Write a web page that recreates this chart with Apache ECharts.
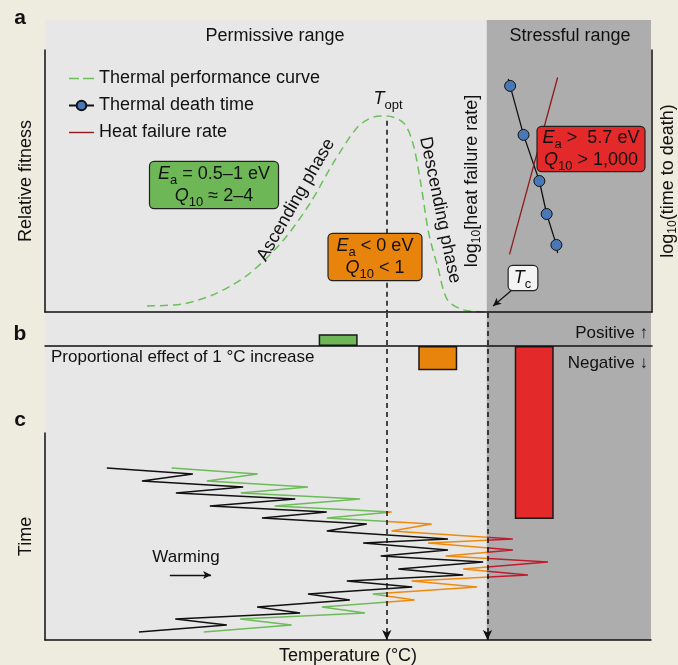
<!DOCTYPE html>
<html>
<head>
<meta charset="utf-8">
<script src="https://cdn.jsdelivr.net/npm/echarts@6/dist/echarts.min.js"></script>
<style>
  html, body { margin: 0; padding: 0; background: #eeebdf; }
  #chart { width: 678px; height: 665px; }
</style>
</head>
<body>
<div id="chart"></div>
<script>
const FONT = '"Liberation Sans", Arial, Helvetica, sans-serif'
const INK = '#111'

// temperature axis runs 0..100 (arbitrary units)
const T_OPT = 56.3
const T_C = 72.9

// panel a: thermal performance curve
const perfTemp = [16.8, 22.8, 28.4, 33.8, 39.3, 43.7, 47.5, 51.5, 54.1, 56.3, 59.1, 60.6, 61.9, 63.2, 64.7, 66.3, 69.0, 72.9]
const perfFitness = [2.3, 3.1, 7.3, 14.9, 27.5, 41.6, 56.9, 70.6, 74.4, 74.8, 72.1, 64.5, 49.2, 30.2, 17.2, 4.6, 0.8, 0]

// stressful inset: thermal death time (first/last are line ends without a dot)
const deathTemp = [76.4, 76.7, 78.9, 81.5, 82.7, 84.3, 84.5]
const deathLogTime = [8.9, 8.63, 6.76, 5.0, 3.74, 2.56, 2.25]
const deathDot = [false, true, true, true, true, true, false]

// stressful inset: heat failure rate
const failureTemp = [76.6, 84.5]
const failureLogRate = [2.2, 8.95]

// panel b: proportional effect of 1 °C increase
const effectNames = ['Ascending', 'Descending', 'Stressful']
const effectTemp = [48.3, 64.7, 80.6]
const effectValue = [3.6, -7.3, -52.4]
const effectColors = ['#6db757', '#e8830c', '#e3292a']

// panel c: temperature over time
const zigzagTime = [83.1, 80.2, 76.8, 73.9, 71.0, 68.1, 64.7, 61.8, 58.9, 56.0, 52.7, 48.8, 46.9, 43.5, 40.6, 37.7, 34.3, 31.4, 28.5, 25.6, 22.2, 19.3, 15.9, 13.0, 10.1, 7.2, 3.9]
const blackTemp = [10.2, 24.4, 16.0, 32.7, 21.6, 41.3, 27.2, 46.5, 35.8, 53.1, 46.5, 66.5, 52.5, 66.5, 55.4, 72.3, 58.3, 69.0, 49.8, 60.6, 43.4, 50.3, 35.0, 42.1, 21.5, 30.0, 15.5]
const colourTemp = [20.9, 35.1, 26.7, 43.4, 32.3, 52.0, 37.9, 57.2, 46.5, 63.8, 57.2, 77.2, 63.2, 77.2, 66.1, 83.0, 69.0, 79.7, 60.5, 71.3, 54.1, 61.0, 45.7, 52.8, 32.2, 40.7, 26.2]

const zip = (xs, ys) => xs.map((x, i) => [x, ys[i]])

const rich = {
  i: { fontFamily: FONT, fontSize: 18, fontStyle: 'italic', lineHeight: 22, color: INK, fill: INK },
  n: { fontFamily: FONT, fontSize: 18, lineHeight: 22, color: INK, fill: INK },
  s: { fontFamily: FONT, fontSize: 13, lineHeight: 13, padding: [12, 0, 0, 0], color: INK, fill: INK }
}

function label(x, y, text, opts) {
  return Object.assign({
    type: 'text', x: x, y: y, z: 100, silent: true,
    style: Object.assign({
      text: text, fill: INK, font: '18px ' + FONT, align: 'center', verticalAlign: 'middle', rich: rich
    }, opts && opts.style)
  }, opts && opts.el)
}

function box(x, y, text, bg, pad) {
  return label(x, y, text, { style: {
    backgroundColor: bg, borderColor: '#222', borderWidth: 1.2, borderRadius: 4, padding: pad || [1, 8, 1, 8]
  } })
}

const hideAxis = { axisLine: { show: false }, axisTick: { show: false }, axisLabel: { show: false }, splitLine: { show: false } }
const axisInk = { lineStyle: { color: INK, width: 1.5 } }
const nameStyle = { fontFamily: FONT, fontSize: 18, color: INK, rich: { s: { fontFamily: FONT, fontSize: 12, color: INK, padding: [10, 0, 0, 0] } } }

var myChart = echarts.init(document.getElementById('chart'))

var option = {
  backgroundColor: '#eeebdf',
  animation: false,
  textStyle: { fontFamily: FONT },
  grid: [
    { left: 45, right: 27, top: 20, height: 620, outerBoundsMode: 'none' },   // background
    { left: 45, right: 26, top: 50, height: 262, outerBoundsMode: 'none' },   // a
    { left: 487, right: 26, top: 50, height: 262, outerBoundsMode: 'none' },  // stressful inset
    { left: 45, right: 26, top: 313, height: 327, outerBoundsMode: 'none' },  // b
    { left: 45, right: 27, top: 433, height: 207, outerBoundsMode: 'none' }   // c
  ],
  xAxis: [
    { gridIndex: 0, type: 'value', min: 0, max: 100, show: false },
    Object.assign({ gridIndex: 1, type: 'value', min: 0, max: 100, z: 5 }, hideAxis, { axisLine: axisInk }),
    { gridIndex: 2, type: 'value', min: T_C, max: 100, show: false },
    Object.assign({ gridIndex: 3, type: 'value', min: 0, max: 100, z: 5 }, hideAxis, { axisLine: Object.assign({ onZero: true }, axisInk) }),
    Object.assign({ gridIndex: 4, type: 'value', min: 0, max: 100, z: 5,
      name: 'Temperature (°C)', nameLocation: 'middle', nameGap: 7, nameTextStyle: nameStyle }, hideAxis, { axisLine: axisInk })
  ],
  yAxis: [
    { gridIndex: 0, type: 'value', min: 0, max: 1, show: false },
    Object.assign({ gridIndex: 1, type: 'value', min: 0, max: 100, z: 5,
      name: 'Relative fitness', nameLocation: 'middle', nameGap: 10, nameTextStyle: nameStyle }, hideAxis, { axisLine: axisInk }),
    Object.assign({ gridIndex: 2, type: 'value', min: 0, max: 10, position: 'left', z: 5,
      name: 'log{s|10}[heat failure rate]', nameLocation: 'middle', nameGap: 4, nameTextStyle: nameStyle }, hideAxis),
    Object.assign({ gridIndex: 2, type: 'value', min: 0, max: 10, position: 'right', z: 5,
      name: 'log{s|10}(time to death)', nameLocation: 'middle', nameGap: 5, nameTextStyle: nameStyle }, hideAxis, { axisLine: Object.assign({ onZero: false }, axisInk) }),
    Object.assign({ gridIndex: 3, type: 'value', min: -89, max: 10 }, hideAxis),
    Object.assign({ gridIndex: 4, type: 'value', min: 0, max: 100, z: 5,
      name: 'Time', nameLocation: 'middle', nameGap: 10, nameTextStyle: nameStyle }, hideAxis, { axisLine: axisInk })
  ],
  legend: {
    data: [
      { name: 'Thermal performance curve', icon: 'path://M0,0h10v1.5h-10zM14,0h11v1.5h-11z' },
      'Thermal death time',
      { name: 'Heat failure rate', icon: 'path://M0,0h25v1.4h-25z' }
    ],
    orient: 'vertical', left: 63, top: 63, itemWidth: 25, itemHeight: 12, itemGap: 6,
    selectedMode: false, symbolKeepAspect: true,
    textStyle: { fontFamily: FONT, fontSize: 18, color: INK, lineHeight: 21 }
  },
  visualMap: {
    type: 'piecewise', show: false, seriesIndex: 5, dimension: 0,
    pieces: [
      { lt: T_OPT, color: '#6dbb5a' },
      { gte: T_OPT, lt: T_C, color: '#ee8a10' },
      { gte: T_C, color: '#c21b2d' }
    ]
  },
  series: [
    {
      // permissive / stressful backgrounds
      type: 'line', xAxisIndex: 0, yAxisIndex: 0, data: [[0, 0]], symbol: 'none', silent: true,
      lineStyle: { opacity: 0 },
      markArea: {
        silent: true,
        data: [
          [{ xAxis: 0, itemStyle: { color: '#e7e7e7' } }, { xAxis: T_C }],
          [{ xAxis: T_C, itemStyle: { color: '#adadad' } }, { xAxis: 100 }]
        ]
      }
    },
    {
      name: 'Thermal performance curve', type: 'line', xAxisIndex: 1, yAxisIndex: 1,
      data: zip(perfTemp, perfFitness), smooth: 0.3, symbol: 'none', silent: true,
      itemStyle: { color: '#6cbf5c' },
      lineStyle: { color: '#6cbf5c', width: 1.5, type: [8, 5] },
      markLine: {
        silent: true, symbol: 'none', label: { show: false },
        lineStyle: { color: INK, width: 1.5, type: [5, 4] },
        data: [[{ coord: [T_OPT, 73] }, { coord: [T_OPT, 0] }]]
      }
    },
    {
      name: 'Thermal death time', type: 'line', xAxisIndex: 2, yAxisIndex: 3,
      data: deathTemp.map((t, i) => deathDot[i] ? [t, deathLogTime[i]] : { value: [t, deathLogTime[i]], symbol: 'none' }),
      symbol: 'circle', symbolSize: 11, showSymbol: true, silent: true,
      itemStyle: { color: '#4a77b6', borderColor: INK, borderWidth: 1 },
      lineStyle: { color: INK, width: 1.3 }
    },
    {
      name: 'Heat failure rate', type: 'line', xAxisIndex: 2, yAxisIndex: 2,
      data: zip(failureTemp, failureLogRate), symbol: 'none', silent: true,
      itemStyle: { color: '#8e1c1c' },
      lineStyle: { color: '#8e1c1c', width: 1.3 },
      markLine: {
        silent: true, symbol: ['none', 'arrow'], symbolSize: [6, 8], label: { show: false },
        lineStyle: { color: INK, width: 1.2, type: 'solid' },
        data: [[{ coord: [77.0, 0.84] }, { coord: [73.9, 0.23] }]]
      }
    },
    {
      name: 'Proportional effect', type: 'bar', xAxisIndex: 3, yAxisIndex: 4, barWidth: 39, silent: true,
      data: effectTemp.map((t, i) => ({ name: effectNames[i], value: [t, effectValue[i]], itemStyle: { color: effectColors[i] } })),
      itemStyle: { borderColor: '#1a1a1a', borderWidth: 1.5 },
      markLine: {
        silent: true, symbol: ['none', 'arrow'], symbolSize: [7, 10], label: { show: false },
        lineStyle: { color: INK, width: 1.5, type: [5, 4] },
        data: [
          [{ coord: [T_OPT, 10] }, { coord: [T_OPT, -89] }],
          [{ coord: [T_C, 10] }, { coord: [T_C, -89] }]
        ]
      }
    },
    {
      name: 'Temperature (shifted)', type: 'line', xAxisIndex: 4, yAxisIndex: 5,
      data: zip(colourTemp, zigzagTime), symbol: 'none', silent: true,
      lineStyle: { width: 1.5 }
    },
    {
      name: 'Temperature', type: 'line', xAxisIndex: 4, yAxisIndex: 5,
      data: zip(blackTemp, zigzagTime), symbol: 'none', silent: true,
      lineStyle: { color: INK, width: 1.5 },
      markLine: {
        silent: true, symbol: ['none', 'arrow'], symbolSize: [6, 8], label: { show: false },
        lineStyle: { color: INK, width: 1.3, type: 'solid' },
        data: [[{ coord: [20.6, 31.4] }, { coord: [27.4, 31.4] }]]
      }
    }
  ],
  graphic: [
    label(20, 18, 'a', { style: { font: 'bold 21px ' + FONT } }),
    label(20, 334, 'b', { style: { font: 'bold 21px ' + FONT } }),
    label(20, 420, 'c', { style: { font: 'bold 21px ' + FONT } }),
    label(275, 36, 'Permissive range'),
    label(570, 36, 'Stressful range'),
    label(388, 99, '{i|T}{s|opt}'),
    label(296, 200, 'Ascending phase', { el: { rotation: 1.047 } }),
    label(440, 210, 'Descending phase', { el: { rotation: -1.368 } }),
    box(214, 185, '{i|E}{s|a}{n| = 0.5–1 eV}\n{i|Q}{s|10}{n| ≈ 2–4}', '#6db757'),
    box(375, 257, '{i|E}{s|a}{n| < 0 eV}\n{i|Q}{s|10}{n| < 1}', '#e8830c'),
    box(591, 149, '{i|E}{s|a}{n| >  5.7 eV}\n{i|Q}{s|10}{n| > 1,000}', '#e3292a', [0, 5, 0, 5]),
    box(523, 278, '{i|T}{s|c}', '#f4f4f4', [1, 6, 1, 5]),
    label(648, 333, 'Positive ↑', { style: { align: 'right', font: '17px ' + FONT } }),
    label(648, 363, 'Negative ↓', { style: { align: 'right', font: '17px ' + FONT } }),
    label(51, 357, 'Proportional effect of 1 °C increase', { style: { align: 'left', font: '17px ' + FONT } }),
    label(186, 557, 'Warming', { style: { font: '17px ' + FONT } })
  ]
}

myChart.setOption(option)
</script>
</body>
</html>
